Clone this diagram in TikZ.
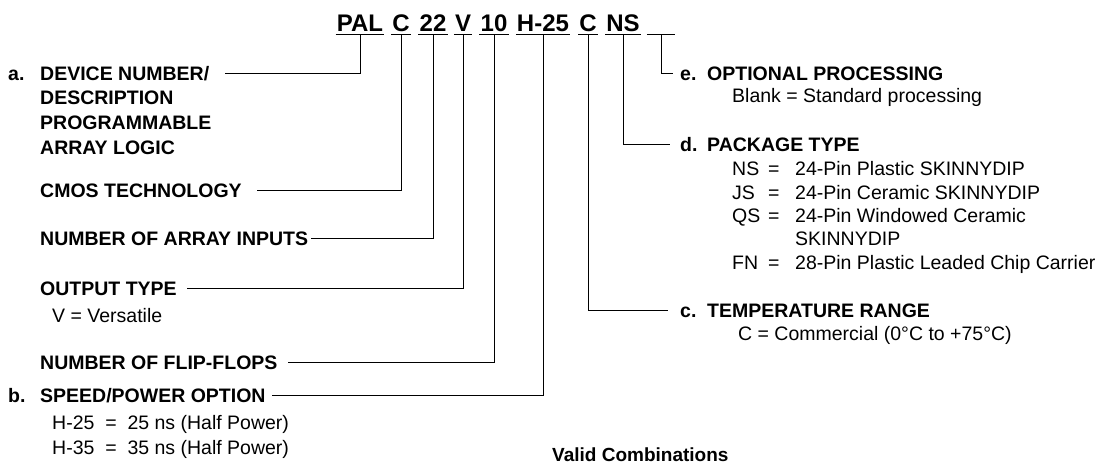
\documentclass[tikz,border=0pt]{standalone}
\usepackage{fontspec}
\setmainfont{Liberation Sans}
\begin{document}
\begin{tikzpicture}[x=1pt,y=-1pt,
  lbl/.style={anchor=base west, inner sep=0pt, text height=13.8pt, text depth=0pt, font=\fontsize{19.5}{22}\selectfont\bfseries},
  sub/.style={anchor=base west, inner sep=0pt, font=\fontsize{19.5}{22}\selectfont},
  seg/.style={anchor=base, inner xsep=1pt, inner ysep=3.5pt, text depth=0pt, font=\fontsize{24}{28}\selectfont\bfseries},
  conn/.style={line width=1pt},
]
\useasboundingbox[fill=white] (0,0) rectangle (1106,464);

% ---- part number segments ----
\node[seg] (tPAL) at (360,31) {PAL};
\node[seg] (tC)   at (401,31) {C};
\node[seg] (t22)  at (433,31) {22};
\node[seg] (tV)   at (463,31) {V};
\node[seg] (t10)  at (494,31) {10};
\node[seg] (tH)   at (543,31) {H-25};
\node[seg] (tC2)  at (588,31) {C};
\node[seg] (tNS)  at (623,31) {NS};
\node[seg, minimum width=28pt] (tE) at (661,31) {};
\foreach \n in {tPAL,tC,t22,tV,t10,tH,tC2,tNS,tE}
  \draw[conn] (\n.south west) -- (\n.south east);

% ---- left labels ----
\node[lbl] (aL) at (8,80) {a.};
\node[lbl] (a1) at (40,80) {DEVICE NUMBER/};
\node[lbl] (a2) at (40,104) {DESCRIPTION};
\node[lbl] (a3) at (40,129) {PROGRAMMABLE};
\node[lbl] (a4) at (40,154) {ARRAY LOGIC};
\node[lbl] (cmos) at (40,197) {CMOS TECHNOLOGY};
\node[lbl] (inp) at (40,245) {NUMBER OF ARRAY INPUTS};
\node[lbl] (out) at (40,295) {OUTPUT TYPE};
\node[sub] (out1) at (52,322) {V = Versatile};
\node[lbl] (ff) at (40,369) {NUMBER OF FLIP-FLOPS};
\node[lbl] (bL) at (8,402) {b.};
\node[lbl] (spd) at (40,402) {SPEED/POWER OPTION};
\node[sub] (spd1) at (52,429) {H-25 \ = \ 25 ns (Half Power)};
\node[sub] (spd2) at (52,454) {H-35 \ = \ 35 ns (Half Power)};

% ---- right labels ----
\node[lbl] (eL) at (680,80) {e.};
\node[lbl] (opt) at (707,80) {OPTIONAL PROCESSING};
\node[sub] (opt1) at (732,102) {Blank = Standard processing};

\node[lbl] (dL) at (680,151) {d.};
\node[lbl] (pkg) at (707,151) {PACKAGE TYPE};
\node[sub] (p1a) at (732,175) {NS};
\node[sub] (p1b) at (768,175) {=};
\node[sub] (p1c) at (795,175) {24-Pin Plastic SKINNYDIP};
\node[sub] (p2a) at (732,199) {JS};
\node[sub] (p2b) at (768,199) {=};
\node[sub] (p2c) at (795,199) {24-Pin Ceramic SKINNYDIP};
\node[sub] (p3a) at (732,222) {QS};
\node[sub] (p3b) at (768,222) {=};
\node[sub] (p3c) at (795,222) {24-Pin Windowed Ceramic};
\node[sub] (p3d) at (795,245) {SKINNYDIP};
\node[sub] (p4a) at (732,269) {FN};
\node[sub] (p4b) at (768,269) {=};
\node[sub] (p4c) at (795,269) {28-Pin Plastic Leaded Chip Carrier};

\node[lbl] (cL) at (680,317) {c.};
\node[lbl] (tmp) at (707,317) {TEMPERATURE RANGE};
\node[sub] (tmp1) at (738,340) {C = Commercial (0°C to +75°C)};

\node[lbl, font=\fontsize{19}{22}\selectfont\bfseries] (valid) at (552,461) {Valid Combinations};

% ---- connectors ----
\draw[conn] (tPAL.south) |- ([xshift=16pt]a1.east);
\draw[conn] (tC.south)   |- ([xshift=15pt]cmos.east);
\draw[conn] (t22.south)  |- ([xshift=3pt]inp.east);
\draw[conn] (tV.south)   |- ([xshift=10pt]out.east);
\draw[conn] (t10.south)  |- ([xshift=10pt]ff.east);
\draw[conn] (tH.south)   |- ([xshift=6pt]spd.east);
\draw[conn] (tC2.south)  |- ([xshift=-12pt]cL.west);
\draw[conn] (tNS.south)  |- ([xshift=-10pt]dL.west);
\draw[conn] (tE.south)   |- ([xshift=-7pt]eL.west);
\end{tikzpicture}
\end{document}
